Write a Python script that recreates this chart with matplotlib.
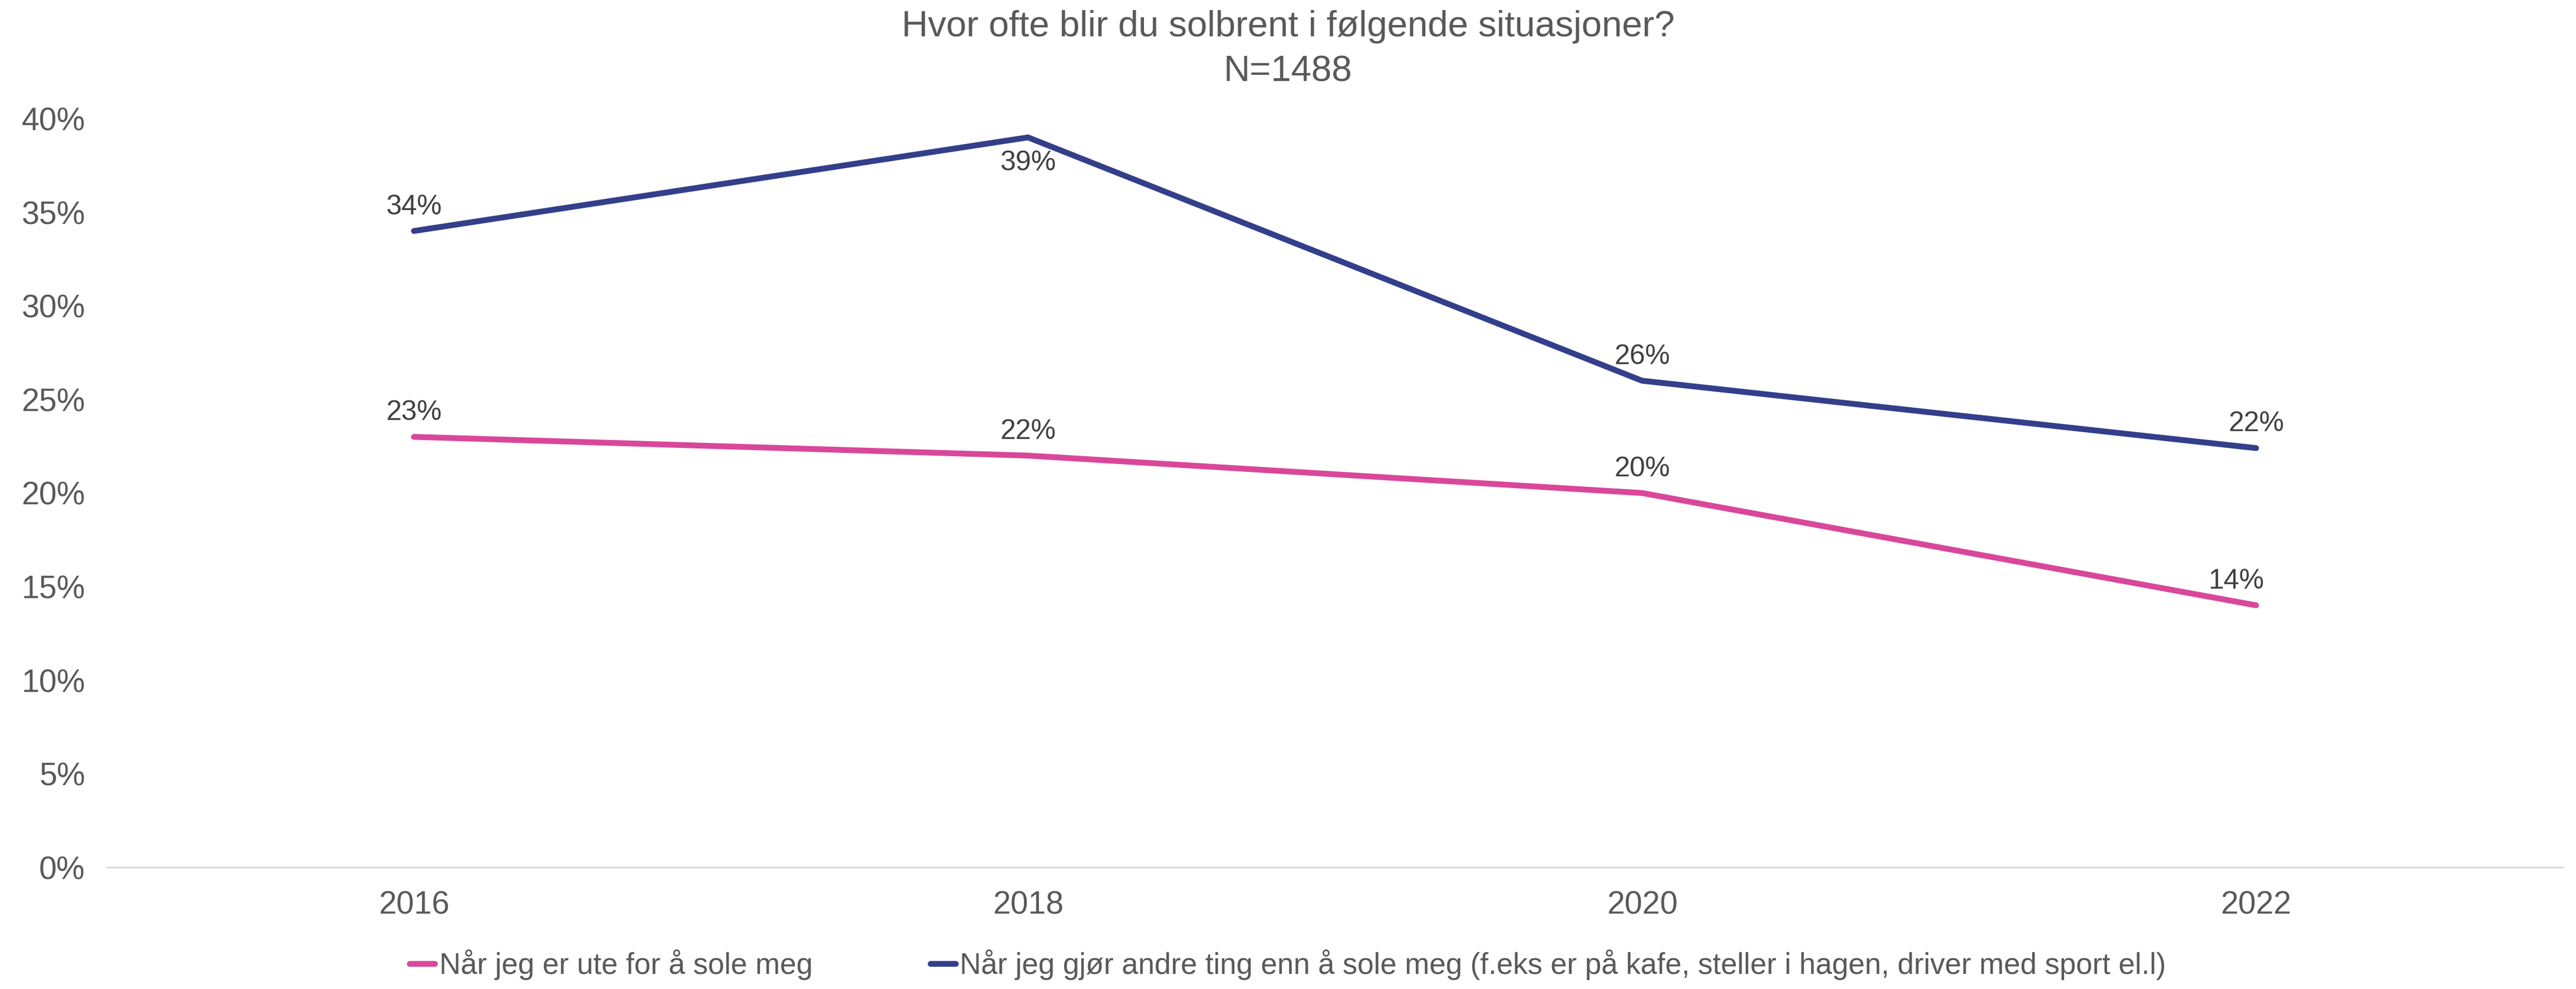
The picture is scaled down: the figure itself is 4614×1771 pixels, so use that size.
import matplotlib
matplotlib.use('Agg')
import matplotlib.pyplot as plt
from matplotlib.ticker import FuncFormatter

plt.rcParams['font.family'] = ['Liberation Sans', 'DejaVu Sans']

years = ['2016', '2018', '2020', '2022']
sole = [0.23, 0.22, 0.20, 0.14]
andre = [0.34, 0.39, 0.26, 0.224]
sole_label = 'Når jeg er ute for å sole meg'
andre_label = ('Når jeg gjør andre ting enn å sole meg '
               '(f.eks er på kafe, steller i hagen, driver med sport el.l)')
title = 'Hvor ofte blir du solbrent i følgende situasjoner?\nN=1488'

pink = '#D9479A'
blue = '#333F8A'
grey = '#595959'

fig = plt.figure(figsize=(46.14, 17.71), dpi=100)
ax = fig.add_axes([0.0415, 0.123, 0.9535, 0.757])

x = range(len(years))
ax.plot(x, sole, color=pink, lw=7.5, solid_capstyle='round', label=sole_label,
        clip_on=False)
ax.plot(x, andre, color=blue, lw=7.5, solid_capstyle='round',
        label=andre_label, clip_on=False)

# data labels: (dx points, dy points)
sole_off = [(0, 31), (0, 31), (0, 31), (-26, 31)]
andre_off = [(0, 31), (0, -33), (0, 31), (0, 31)]
for vals, offs in ((sole, sole_off), (andre, andre_off)):
    for i, v in enumerate(vals):
        ax.annotate(f"{round(v * 100):.0f}%", (i, v), xytext=offs[i],
                    textcoords='offset points', ha='center', va='center',
                    fontsize=36, color='#404040')

ax.set_xlim(-0.5, 3.5)
ax.set_ylim(0, 0.4)
ax.set_xticks(list(x))
ax.set_xticklabels(years)
ax.set_yticks([i * 0.05 for i in range(9)])
ax.yaxis.set_major_formatter(FuncFormatter(lambda v, p: f"{v * 100:.0f}%"))
ax.tick_params(length=0, labelsize=41, labelcolor=grey)
ax.tick_params(axis='x', pad=30)
ax.tick_params(axis='y', pad=28)
for s in ['top', 'right', 'left']:
    ax.spines[s].set_visible(False)
ax.spines['bottom'].set_color('#D9D9D9')
ax.spines['bottom'].set_linewidth(2)

fig.suptitle(title, y=0.99, fontsize=47, color=grey, linespacing=1.45)

leg = fig.legend(loc='lower center', bbox_to_anchor=(0.5, -0.018), ncol=2,
                 frameon=False, fontsize=38, handlelength=0.85,
                 handletextpad=0.15, columnspacing=4.0)
for t in leg.get_texts():
    t.set_color(grey)

fig.savefig('out.png', dpi=100)
